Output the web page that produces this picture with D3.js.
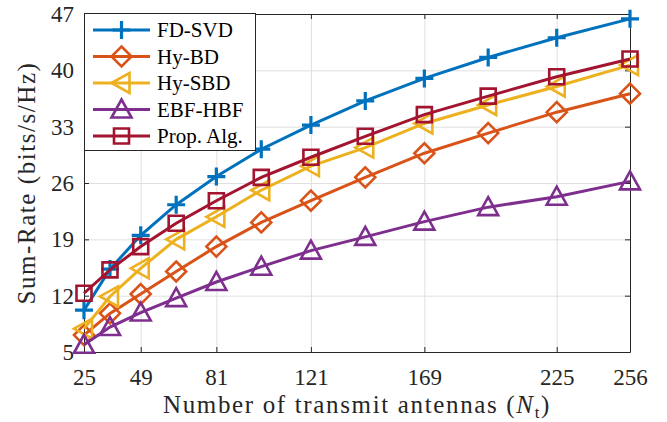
<!DOCTYPE html>
<html>
<head>
<meta charset="utf-8">
<script src="https://cdn.jsdelivr.net/npm/d3@7"></script>
<style>
  body { margin: 0; background: #fff; }
  svg { display: block; }
</style>
</head>
<body>
<script>
// number of transmit antennas
const antennas = [25, 36, 49, 64, 81, 100, 121, 144, 169, 196, 225, 256];
const xTicks = [25, 49, 81, 121, 169, 225, 256];
const yTicks = [5, 12, 19, 26, 33, 40, 47];

// sum-rate of each scheme (bits/s/Hz)
const fdSvd  = [10.2, 15.3, 19.5, 23.3, 26.8, 30.2, 33.2, 36.2, 39.0, 41.6, 44.05, 46.4];
const hyBd   = [7.1, 9.8, 12.2, 15.0, 18.1, 21.1, 23.8, 26.7, 29.7, 32.2, 34.8, 37.1];
const hySbd  = [7.9, 11.9, 15.4, 19.0, 21.8, 25.1, 28.1, 30.4, 33.4, 35.7, 38.0, 40.65];
const ebfHbf = [5.9, 8.1, 9.9, 11.7, 13.7, 15.6, 17.6, 19.3, 21.2, 23.0, 24.3, 26.2];
const propAlg = [12.3, 15.2, 18.1, 21.0, 23.8, 26.7, 29.2, 31.8, 34.5, 36.8, 39.2, 41.4];

const seriesNames = ["FD-SVD", "Hy-BD", "Hy-SBD", "EBF-HBF", "Prop. Alg."];
const seriesValues = [fdSvd, hyBd, hySbd, ebfHbf, propAlg];
const colors = ["#0072BD", "#D95319", "#EDB120", "#7E2F8E", "#A2142F"];
const markers = ["plus", "diamond", "triangleLeft", "triangleUp", "square"];

const w = 667, h = 422;
const margin = {top: 14, right: 37, bottom: 70, left: 84};
const iw = w - margin.left - margin.right;
const ih = h - margin.top - margin.bottom;
const axisColor = "#262626";
const serif = "'Liberation Serif', 'DejaVu Serif', serif";

// marker shapes, centred on 0,0
function markerPath(type) {
  switch (type) {
    case "plus": return "M-9,0H9M0,-9V9";
    case "diamond": return "M0,-10L10,0L0,10L-10,0Z";
    case "triangleLeft": return "M-10,0L8,-10L8,10Z";
    case "triangleUp": return "M0,-10L10,8L-10,8Z";
    case "square": return "M-7.5,-7.5H7.5V7.5H-7.5Z";
  }
}

const svg = d3.select("body").append("svg")
  .attr("width", w)
  .attr("height", h);

const g = svg.append("g")
  .attr("transform", `translate(${margin.left},${margin.top})`);

const x = d3.scaleLinear().domain([25, 256]).range([0, iw]);
const y = d3.scaleLinear().domain([5, 47]).range([ih, 0]);

// grid
g.append("g")
  .attr("transform", `translate(0,${ih})`)
  .call(d3.axisBottom(x).tickValues(xTicks).tickSize(-ih).tickFormat(""))
  .call(a => a.select(".domain").remove())
  .call(a => a.selectAll("line").attr("stroke", "#e0e0e0").attr("stroke-width", 1));
g.append("g")
  .call(d3.axisLeft(y).tickValues(yTicks).tickSize(-iw).tickFormat(""))
  .call(a => a.select(".domain").remove())
  .call(a => a.selectAll("line").attr("stroke", "#e0e0e0").attr("stroke-width", 1));

// box axes with inward ticks
function styleAxis(a) {
  a.attr("font-family", null);
  a.select(".domain").attr("stroke", axisColor).attr("stroke-width", 1);
  a.selectAll(".tick line").attr("stroke", axisColor).attr("stroke-width", 1);
  a.selectAll("text")
    .attr("fill", axisColor)
    .style("font-family", serif)
    .style("font-size", "23px");
}
g.append("g")
  .attr("transform", `translate(0,${ih})`)
  .call(d3.axisBottom(x).tickValues(xTicks).tickSizeInner(-5).tickSizeOuter(0).tickPadding(17))
  .call(styleAxis);
g.append("g")
  .call(d3.axisTop(x).tickValues(xTicks).tickSizeInner(-5).tickSizeOuter(0).tickFormat(""))
  .call(styleAxis);
g.append("g")
  .call(d3.axisLeft(y).tickValues(yTicks).tickSizeInner(-5).tickSizeOuter(0).tickPadding(10))
  .call(styleAxis);
g.append("g")
  .attr("transform", `translate(${iw},0)`)
  .call(d3.axisRight(y).tickValues(yTicks).tickSizeInner(-5).tickSizeOuter(0).tickFormat(""))
  .call(styleAxis);

// series
const line = d3.line()
  .x((d, i) => x(antennas[i]))
  .y(d => y(d));

seriesValues.forEach((vals, k) => {
  const s = g.append("g");
  s.append("path")
    .datum(vals)
    .attr("d", line)
    .attr("fill", "none")
    .attr("stroke", colors[k])
    .attr("stroke-width", 3);
  s.selectAll("path.mark")
    .data(vals)
    .enter()
    .append("path")
    .attr("class", "mark")
    .attr("transform", (d, i) => `translate(${x(antennas[i])},${y(d)})`)
    .attr("d", markerPath(markers[k]))
    .attr("fill", "none")
    .attr("stroke", colors[k])
    .attr("stroke-width", markers[k] === "plus" ? 3.2 : 2.6);
});

// legend
const lg = svg.append("g").attr("transform", "translate(84,13)");
lg.append("rect")
  .attr("x", 0.5).attr("y", 0.5)
  .attr("width", 171).attr("height", 137)
  .attr("fill", "#fff")
  .attr("stroke", axisColor)
  .attr("stroke-width", 1);
seriesNames.forEach((name, k) => {
  const cy = 17 + k * 26.5;
  lg.append("line")
    .attr("x1", 9).attr("x2", 66)
    .attr("y1", cy).attr("y2", cy)
    .attr("stroke", colors[k])
    .attr("stroke-width", 3);
  lg.append("path")
    .attr("transform", `translate(37.5,${cy})`)
    .attr("d", markerPath(markers[k]))
    .attr("fill", "none")
    .attr("stroke", colors[k])
    .attr("stroke-width", markers[k] === "plus" ? 3.2 : 2.6);
  lg.append("text")
    .attr("x", 73)
    .attr("y", cy + 7)
    .attr("fill", "#000")
    .style("font-family", serif)
    .style("font-size", "21px")
    .text(name);
});

// stretch a label to the width it has in the reference
function fitWidth(sel, target) {
  const node = sel.node();
  const len = node.getComputedTextLength();
  const n = node.textContent.length;
  sel.attr("letter-spacing", ((target - len) / n).toFixed(2));
}

// axis titles
const xl = svg.append("text")
  .attr("x", 357)
  .attr("y", 413)
  .attr("text-anchor", "middle")
  .attr("fill", axisColor)
  .style("font-family", serif)
  .style("font-size", "25px");
xl.append("tspan").text("Number of transmit antennas (");
xl.append("tspan").style("font-style", "italic").text("N");
xl.append("tspan").attr("dy", 5).style("font-size", "17px").text("t");
xl.append("tspan").attr("dy", -5).text(")");
fitWidth(xl, 388);

const yl = svg.append("text")
  .attr("transform", "translate(35,183) rotate(-90)")
  .attr("text-anchor", "middle")
  .attr("fill", axisColor)
  .style("font-family", serif)
  .style("font-size", "25px")
  .text("Sum-Rate (bits/s/Hz)");
fitWidth(yl, 243);
</script>
</body>
</html>
